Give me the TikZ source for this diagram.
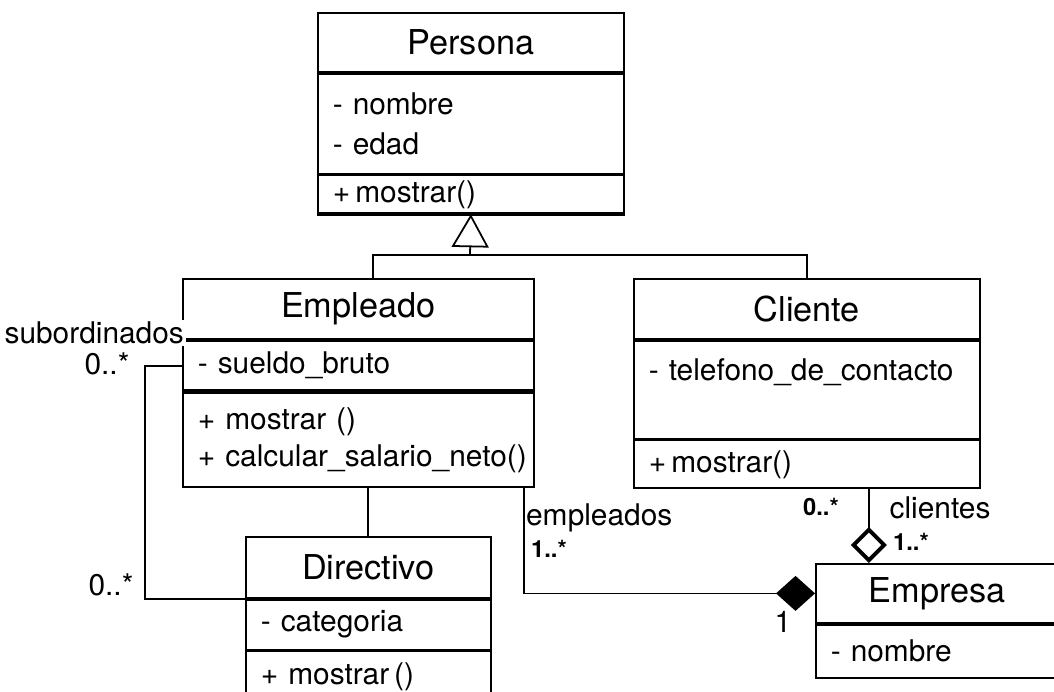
\documentclass[tikz,border=0pt]{standalone}
\usepackage{fontspec}
\setmainfont{TeX Gyre Heros}
\usetikzlibrary{arrows.meta, positioning}

\hyphenpenalty=10000
\newcommand\headfont{\fontsize{19.5}{23}\selectfont}
\newcommand\bodyfont{\fontsize{17}{21}\selectfont}
\newcommand\multfont{\fontsize{13.5}{15}\selectfont\bfseries}

\tikzset{
  classhead/.style={
    draw, line width=1pt, anchor=north west, inner xsep=0.3cm,
    inner ysep=0pt, align=center, font=\headfont
  },
  member/.style={
    draw, line width=1pt, inner xsep=0.3cm, inner ysep=0pt,
    align=left, font=\bodyfont
  },
  conn/.style={line width=1pt},
  inherit/.style={conn, -{Triangle[open, length=0.66cm, width=0.74cm]}},
  compose/.style={conn, -{Diamond[length=0.78cm, width=0.7cm]}},
  aggreg/.style={
    conn, -{Diamond[fill=white, length=0.72cm, width=0.72cm, line width=2.2pt]}
  },
  role/.style={font=\bodyfont, inner sep=1pt},
  mult/.style={font=\multfont, inner sep=1pt},
  sepline/.style={line width=2.4pt}
}

\begin{document}
\begin{tikzpicture}[x=0.02cm, y=-0.02cm]
  \useasboundingbox (0,0) rectangle (1054,691);

  % Persona
  \node[classhead, text width=5.52cm, minimum height=1.18cm] (persona)
    at (317,12) {Persona};
  \node[member, text width=5.52cm, minimum height=2cm,
        below=0pt of persona] (persona-attr)
    {- nombre\\[2pt]- edad};
  \node[member, text width=5.52cm, minimum height=0.76cm,
        below=0pt of persona-attr] (persona-ops)
    {+\,mostrar()};
  \draw[sepline] (persona-ops.south west) -- (persona-ops.south east);

  % Empleado
  \node[classhead, text width=6.42cm, minimum height=1.2cm] (empleado)
    at (182,278) {Empleado};
  \node[member, text width=6.42cm, minimum height=1cm,
        below=0pt of empleado] (empleado-attr)
    {-~sueldo\_bruto};
  \node[member, text width=6.42cm, minimum height=1.9cm,
        below=0pt of empleado-attr] (empleado-ops)
    {+~mostrar~()\\+~calcular\_salario\_neto()};
  \draw[sepline] (empleado-ops.north west) -- (empleado-ops.north east);

  % Cliente
  \node[classhead, text width=6.32cm, minimum height=1.2cm] (cliente)
    at (633,278) {Cliente};
  \node[member, text width=6.32cm, minimum height=1.96cm,
        below=0pt of cliente] (cliente-attr)
    {-~telefono\_de\_contacto\\[2pt]\mbox{}};
  \node[member, text width=6.32cm, minimum height=0.96cm,
        below=0pt of cliente-attr] (cliente-ops)
    {+\,mostrar()};

  % Directivo
  \node[classhead, text width=4.3cm, minimum height=1.22cm] (directivo)
    at (245,536) {Directivo};
  \node[member, text width=4.3cm, minimum height=1cm,
        below=0pt of directivo] (directivo-attr)
    {-~categoria};
  \node[member, text width=4.3cm, minimum height=1cm,
        below=0pt of directivo-attr] (directivo-ops)
    {+~mostrar\,()};

  % Empresa
  \node[classhead, text width=4.26cm, minimum height=1.18cm] (empresa)
    at (815,563) {Empresa};
  \node[member, text width=4.26cm, minimum height=1.06cm,
        below=0pt of empresa] (empresa-attr)
    {-~nombre};

  % Herencia
  \coordinate (gen) at (470,255);
  \draw[conn] ([xshift=0.3cm]empleado.north) |- (gen) -| (cliente.north);
  \draw[inherit] (gen) -- (persona-ops.south);

  % Asociaciones
  \draw[conn] (directivo.north) -- (directivo.north |- empleado-ops.south);
  \draw[conn] (empleado-attr.west) -- ++(-37,0) |- (directivo.south west);
  \draw[compose] ([xshift=-0.22cm]empleado-ops.south east) |- (empresa.west);
  \coordinate (agg-top) at ([xshift=1.24cm]cliente-ops.south);
  \draw[aggreg] (agg-top) -- (agg-top |- empresa.north);

  % Roles y multiplicidades
  \node[role, anchor=east, fill=white] (subord) at (186,333) {subordinados};
  \node[role] (sub-mult) at (107,364) {0..*};
  \node[role] (dir-mult) at (111,585) {0..*};
  \node[role, anchor=west] (emp-role) at (524,518) {empleados};
  \node[mult] (emp-mult) at (549,549) {1..*};
  \node[role] (comp-one) at (783,622) {1};
  \node[mult] (cli-mult) at (821,507) {0..*};
  \node[role] (cli-role) at (940,508) {clientes};
  \node[mult] (agg-mult) at (911,542) {1..*};
\end{tikzpicture}
\end{document}
